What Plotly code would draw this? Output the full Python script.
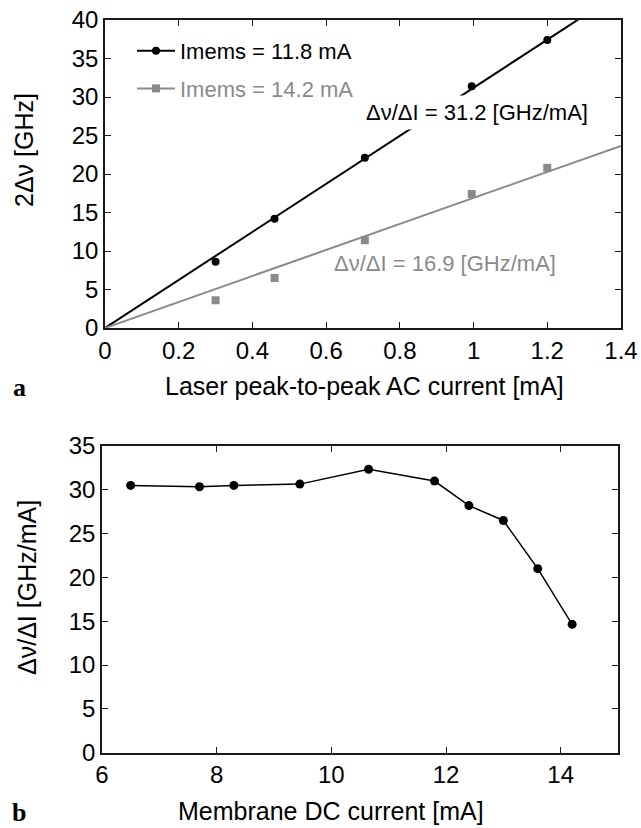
import plotly.graph_objects as go

W, H = 641, 828

# ---- Panel a data ----
ac_current = [0.30, 0.46, 0.705, 0.995, 1.20]
shift_11_8 = [8.6, 14.2, 22.1, 31.4, 37.4]
shift_14_2 = [3.6, 6.5, 11.4, 17.4, 20.8]
fit_slopes = [31.2, 16.9]
fit_x = [0.0, 1.4]
legend_names = ["Imems = 11.8 mA", "Imems = 14.2 mA"]

# ---- Panel b data ----
dc_current = [6.5, 7.7, 8.3, 9.45, 10.65, 11.8, 12.4, 13.0, 13.6, 14.2]
tuning = [30.5, 30.35, 30.5, 30.65, 32.35, 31.0, 28.2, 26.5, 21.0, 14.65]

BLACK = "#000000"
GRAY = "#8a8a8a"
FONT = "Liberation Sans, Arial, sans-serif"

def px(x):
    return x / W

def py(y):
    return 1 - y / H

fig = go.Figure()

# fit lines
fig.add_trace(go.Scatter(x=fit_x, y=[fit_slopes[0] * v for v in fit_x], mode="lines",
                         line=dict(color=BLACK, width=2), showlegend=False,
                         xaxis="x", yaxis="y"))
fig.add_trace(go.Scatter(x=fit_x, y=[fit_slopes[1] * v for v in fit_x], mode="lines",
                         line=dict(color=GRAY, width=2), showlegend=False,
                         xaxis="x", yaxis="y"))
# data points
fig.add_trace(go.Scatter(x=ac_current, y=shift_11_8, mode="markers",
                         marker=dict(color=BLACK, size=8, symbol="circle"),
                         showlegend=False, xaxis="x", yaxis="y"))
fig.add_trace(go.Scatter(x=ac_current, y=shift_14_2, mode="markers",
                         marker=dict(color=GRAY, size=8, symbol="square"),
                         showlegend=False, xaxis="x", yaxis="y"))
# legend entries
fig.add_trace(go.Scatter(x=[None], y=[None], mode="lines+markers", name=legend_names[0],
                         line=dict(color=BLACK, width=2),
                         marker=dict(color=BLACK, size=8, symbol="circle"),
                         legendgroup="a", xaxis="x", yaxis="y"))
fig.add_trace(go.Scatter(x=[None], y=[None], mode="lines+markers",
                         name="<span style='color:%s'>%s</span>" % (GRAY, legend_names[1]),
                         line=dict(color=GRAY, width=2),
                         marker=dict(color=GRAY, size=8, symbol="square"),
                         legendgroup="b", xaxis="x", yaxis="y"))

# panel b
fig.add_trace(go.Scatter(x=dc_current, y=tuning, mode="lines+markers",
                         line=dict(color=BLACK, width=1.5),
                         marker=dict(color=BLACK, size=9, symbol="circle"),
                         showlegend=False, xaxis="x2", yaxis="y2"))

axis_common = dict(showline=True, linecolor="#1a1a1a", linewidth=1.5, mirror="ticks",
                   ticks="inside", ticklen=6, tickwidth=1.2, tickcolor="#1a1a1a",
                   showgrid=False, zeroline=False, automargin=False,
                   ticklabeloverflow="allow",
                   tickfont=dict(family=FONT, size=24, color=BLACK))

fig.update_layout(
    width=W, height=H,
    margin=dict(l=0, r=0, t=0, b=0, pad=0, autoexpand=False),
    paper_bgcolor="white", plot_bgcolor="white",
    font=dict(family=FONT, color=BLACK),
    xaxis=dict(domain=[px(105), px(621)], range=[0, 1.4], dtick=0.2, tick0=0,
               anchor="y", **axis_common),
    yaxis=dict(domain=[py(328), py(20)], range=[0, 40], dtick=5, tick0=0,
               anchor="x", **axis_common),
    xaxis2=dict(domain=[px(102), px(618)], range=[6, 15], dtick=2, tick0=6,
                anchor="y2", **axis_common),
    yaxis2=dict(domain=[py(752.7), py(446)], range=[0, 35], dtick=5, tick0=0,
                anchor="x2", **axis_common),
    legend=dict(x=px(132), y=py(30), xanchor="left", yanchor="top",
                bgcolor="rgba(0,0,0,0)", borderwidth=0,
                font=dict(family=FONT, size=22, color=BLACK),
                tracegroupgap=6, itemwidth=38),
)

ann = []
# slope labels
ann.append(dict(text="Δν/ΔI = 31.2 [GHz/mA]", x=px(477), y=py(113), xref="paper", yref="paper",
                showarrow=False, font=dict(family=FONT, size=22, color=BLACK),
                bgcolor="white", borderpad=4, xanchor="center", yanchor="middle"))
ann.append(dict(text="Δν/ΔI = 16.9 [GHz/mA]", x=px(444.5), y=py(263), xref="paper", yref="paper",
                showarrow=False, font=dict(family=FONT, size=22, color=GRAY),
                xanchor="center", yanchor="middle"))
# axis titles
ann.append(dict(text="Laser peak-to-peak AC current [mA]", x=px(364.5), y=py(386),
                xref="paper", yref="paper", showarrow=False,
                font=dict(family=FONT, size=25, color=BLACK), xanchor="center", yanchor="middle"))
ann.append(dict(text="2Δν [GHz]", x=px(24), y=py(150), xref="paper", yref="paper",
                showarrow=False, textangle=-90,
                font=dict(family=FONT, size=25, color=BLACK), xanchor="center", yanchor="middle"))
ann.append(dict(text="Membrane DC current [mA]", x=px(331.5), y=py(811),
                xref="paper", yref="paper", showarrow=False,
                font=dict(family=FONT, size=25, color=BLACK), xanchor="center", yanchor="middle"))
ann.append(dict(text="Δν/ΔI [GHz/mA]", x=px(27), y=py(588), xref="paper", yref="paper",
                showarrow=False, textangle=-90,
                font=dict(family=FONT, size=25, color=BLACK), xanchor="center", yanchor="middle"))
# panel labels
ann.append(dict(text="<b>a</b>", x=px(19), y=py(387), xref="paper", yref="paper",
                showarrow=False, font=dict(family="Liberation Serif, Times New Roman, serif", size=26,
                                           color=BLACK), xanchor="center", yanchor="middle"))
ann.append(dict(text="<b>b</b>", x=px(19), y=py(812), xref="paper", yref="paper",
                showarrow=False, font=dict(family="Liberation Serif, Times New Roman, serif", size=26,
                                           color=BLACK), xanchor="center", yanchor="middle"))
fig.update_layout(annotations=ann)

# remove the default page margin so the figure fills the window exactly
fig.write_html("out.html",
               config={"displayModeBar": False},
               post_script="document.body.style.margin='0';"
                           "document.documentElement.style.overflow='hidden';")
